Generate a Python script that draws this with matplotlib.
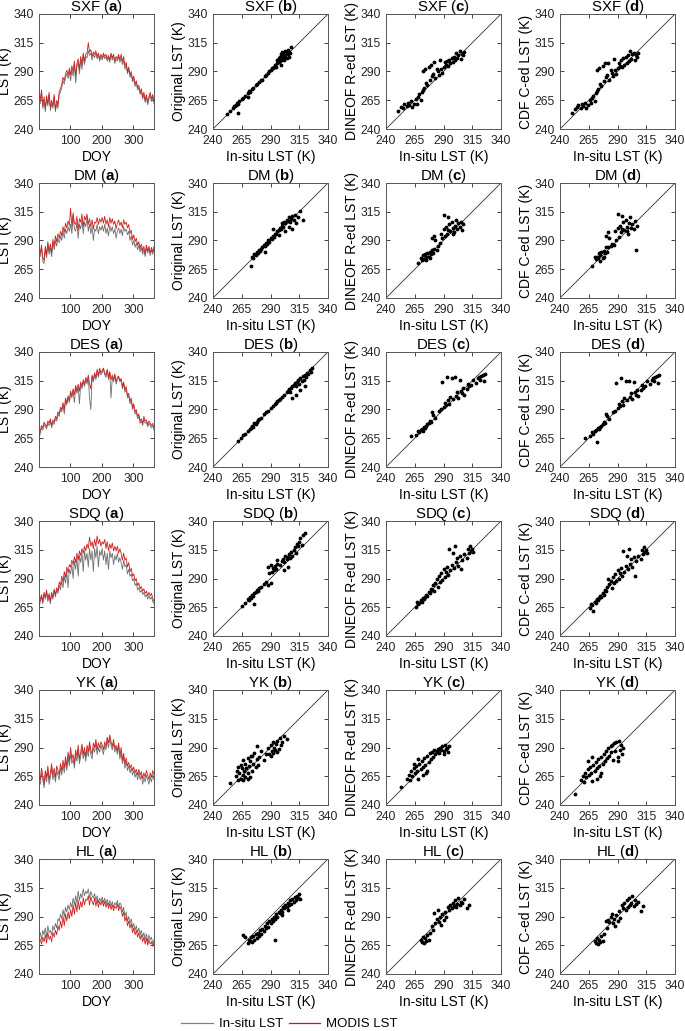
import matplotlib.pyplot as plt
from matplotlib.lines import Line2D

plt.rcParams['font.family'] = ['Liberation Sans', 'DejaVu Sans']
plt.rcParams['mathtext.fontset'] = 'custom'
plt.rcParams['mathtext.rm'] = 'Liberation Sans'
plt.rcParams['mathtext.bf'] = 'Liberation Sans:bold'

# day of year, every 4th day
doy = list(range(1, 366, 4))

# ---- time series (in-situ / MODIS), K ----
sxf_insitu = [268, 262, 272, 258, 264, 255, 266, 260, 270, 256, 262, 258, 268, 255, 262, 258,
              270, 272, 276, 282, 279, 285, 288, 284, 290,
              282, 292, 286, 296, 280, 294, 298, 288, 300, 292, 304, 296, 303,
              302, 308, 304, 306, 300, 305, 302, 306, 301, 304, 299, 303, 300,
              304, 301, 303, 299, 302, 298, 304, 300, 303, 297, 301, 299, 303, 298,
              302, 296, 300, 292, 296, 288, 292, 285, 288, 281, 284, 277, 280, 274,
              276, 270, 273, 266, 270, 263, 268, 261, 266, 270, 264, 268, 262]
sxf_modis = [270, 265, 274, 260, 268, 258, 269, 262, 272, 259, 265, 260, 270, 257, 265, 261,
             273, 275, 279, 285, 282, 288, 291, 287, 293,
             287, 295, 290, 299, 286, 297, 301, 292, 303, 296, 306, 299, 305,
             306, 315, 307, 309, 303, 307, 305, 308, 303, 306, 301, 305, 302,
             306, 303, 305, 301, 304, 300, 306, 302, 305, 299, 303, 301, 305, 300,
             305, 299, 303, 295, 298, 290, 294, 287, 290, 283, 286, 279, 282, 276,
             278, 272, 275, 268, 272, 265, 270, 263, 268, 272, 266, 270, 264]

dm_insitu = [280, 276, 284, 272, 270, 282, 275, 286, 278, 284, 276, 288, 282, 290, 285, 292,
             288, 294, 290, 298, 292, 300, 296, 302, 298,
             304, 296, 312, 300, 298, 306, 292, 304, 300, 308, 296, 306, 302,
             310, 298, 304, 296, 302, 290, 300, 298, 304, 296, 302, 299, 303,
             298, 304, 296, 301, 294, 303, 298, 302, 296, 300, 292, 298, 301, 296,
             300, 294, 302, 298, 300, 295, 298, 290, 294, 286, 290, 284, 288, 282,
             286, 280, 284, 278, 282, 276, 284, 279, 283, 277, 282, 278, 283]
dm_modis = [282, 279, 286, 275, 273, 285, 278, 289, 281, 287, 279, 291, 285, 294, 289, 296,
            292, 298, 294, 302, 297, 305, 301, 307, 303,
            318, 302, 314, 305, 304, 311, 299, 309, 306, 313, 302, 311, 308,
            313, 304, 309, 302, 308, 300, 306, 305, 310, 304, 309, 306, 310,
            305, 311, 304, 308, 302, 310, 305, 309, 304, 307, 300, 305, 308, 303,
            306, 301, 308, 304, 306, 301, 304, 296, 299, 291, 295, 289, 292, 286,
            289, 283, 287, 281, 285, 278, 286, 281, 285, 279, 284, 280, 285]

des_insitu = [263, 270, 274, 272, 277, 275, 273, 278, 276, 280, 274, 279, 277, 282, 280, 286,
              284, 290, 288, 294, 286, 298, 294, 300, 296,
              304, 300, 306, 296, 309, 304, 310, 295, 312, 308, 314, 310, 316,
              312, 318, 300, 290, 318, 314, 320, 316, 322, 318, 324, 320, 322,
              325, 320, 318, 324, 316, 322, 300, 318, 314, 320, 312, 316, 318, 314,
              316, 308, 312, 305, 308, 300, 302, 295, 298, 290, 293, 286, 288, 282,
              284, 278, 280, 276, 282, 278, 279, 275, 278, 276, 274, 276, 272]
des_modis = [265, 272, 276, 274, 279, 277, 275, 280, 278, 282, 276, 281, 279, 284, 282, 288,
             286, 292, 290, 296, 290, 300, 296, 302, 298,
             306, 302, 308, 303, 311, 306, 312, 306, 314, 310, 316, 312, 318,
             314, 320, 312, 308, 320, 316, 322, 318, 325, 320, 326, 322, 324,
             326, 322, 320, 325, 318, 323, 316, 320, 316, 321, 314, 318, 319, 315,
             317, 310, 314, 307, 310, 302, 304, 297, 300, 292, 295, 288, 290, 284,
             286, 280, 282, 278, 284, 280, 281, 277, 280, 278, 276, 278, 274]

sdq_insitu = [265, 270, 274, 268, 276, 272, 278, 270, 275, 268, 276, 272, 279, 274, 280, 277,
              284, 280, 288, 282, 292, 286, 296, 282, 298,
              294, 302, 290, 305, 298, 308, 292, 310, 304, 312, 296, 314, 306,
              312, 300, 316, 306, 314, 296, 316, 308, 318, 300, 314, 310, 316,
              306, 314, 302, 312, 298, 314, 308, 312, 302, 310, 306, 312, 304, 308,
              304, 298, 306, 300, 302, 294, 298, 292, 294, 288, 290, 284, 286, 280,
              282, 278, 280, 276, 278, 274, 276, 272, 275, 272, 274, 270, 268]
sdq_modis = [266, 272, 276, 270, 278, 274, 280, 272, 277, 270, 278, 274, 281, 276, 282, 279,
             287, 284, 292, 287, 296, 291, 300, 295, 302,
             300, 306, 302, 309, 304, 312, 306, 314, 310, 316, 312, 318, 314,
             320, 316, 326, 318, 322, 316, 324, 318, 327, 320, 324, 318, 322,
             320, 324, 316, 322, 314, 320, 316, 321, 314, 318, 314, 318, 312, 316,
             312, 306, 312, 306, 308, 300, 304, 296, 299, 292, 294, 288, 290, 284,
             286, 281, 283, 279, 281, 277, 279, 275, 278, 275, 277, 273, 270]

yk_insitu = [264, 258, 268, 262, 255, 266, 260, 270, 258, 264, 272, 262, 268, 260, 270, 266,
             262, 272, 266, 275, 268, 278, 270, 282, 274,
             285, 276, 280, 272, 284, 278, 288, 276, 282, 290, 280, 286, 278,
             288, 282, 292, 284, 280, 290, 286, 294, 284, 290, 286, 292, 288,
             284, 292, 288, 296, 290, 298, 292, 288, 294, 286, 290, 284, 292, 280,
             286, 276, 282, 272, 278, 270, 274, 268, 272, 266, 270, 264, 268, 262,
             268, 262, 266, 258, 264, 260, 266, 262, 258, 264, 260, 266, 262]
yk_modis = [268, 262, 272, 266, 258, 270, 264, 274, 262, 268, 276, 266, 272, 264, 274, 270,
            266, 276, 270, 279, 272, 282, 274, 286, 278,
            290, 280, 284, 276, 288, 282, 292, 280, 286, 293, 284, 290, 282,
            292, 286, 295, 288, 284, 294, 290, 297, 288, 294, 290, 295, 292,
            288, 295, 291, 299, 294, 301, 295, 291, 297, 289, 292, 287, 294, 283,
            290, 279, 285, 276, 281, 274, 277, 272, 275, 270, 273, 268, 271, 266,
            271, 266, 269, 263, 268, 264, 270, 266, 262, 268, 264, 270, 266]

hl_insitu = [272, 276, 270, 278, 274, 280, 272, 282, 276, 278, 274, 282, 278, 284, 280, 288,
             286, 292, 288, 296, 290, 298, 294, 300, 296,
             302, 298, 306, 300, 308, 302, 312, 304, 310, 306, 314, 308, 312,
             310, 314, 306, 312, 308, 306, 310, 304, 308, 302, 306, 303, 307,
             302, 306, 301, 305, 300, 304, 299, 303, 298, 302, 300, 304, 298, 302,
             300, 294, 298, 290, 294, 286, 290, 284, 288, 280, 284, 278, 282, 276,
             280, 274, 278, 272, 276, 270, 275, 268, 274, 270, 272, 266, 270]
hl_modis = [268, 270, 266, 272, 268, 274, 267, 276, 270, 273, 268, 276, 272, 278, 274, 282,
            278, 286, 280, 290, 282, 292, 286, 294, 288,
            296, 290, 300, 292, 302, 294, 304, 296, 303, 298, 306, 300, 305,
            304, 308, 300, 307, 303, 300, 306, 299, 305, 298, 303, 300, 304,
            299, 303, 298, 302, 297, 301, 296, 300, 295, 299, 297, 301, 295, 299,
            296, 290, 294, 286, 290, 282, 286, 280, 284, 276, 280, 274, 278, 272,
            276, 270, 274, 268, 272, 266, 271, 265, 270, 266, 268, 264, 267]

# ---- clear-sky days: in-situ vs original MODIS ----
sxf_bx = [252, 255, 257, 258, 260, 261, 262, 263, 265, 266, 268, 270, 271, 272, 274, 275, 277, 278, 280, 282,
          283, 285, 286, 288, 289, 290, 292, 293, 294, 295, 296, 296, 297, 297, 298, 298, 299, 299, 300, 300,
          300, 301, 301, 302, 302, 303, 303, 304, 304, 305, 305, 306, 306, 307, 308, 262, 259, 270, 291, 299]
sxf_by = [253, 256, 258, 260, 261, 263, 262, 264, 266, 267, 269, 271, 273, 272, 275, 276, 278, 279, 281, 283,
          283, 286, 287, 289, 290, 291, 293, 294, 296, 294, 297, 300, 298, 302, 299, 303, 300, 305, 301, 304,
          307, 302, 306, 300, 304, 303, 308, 302, 306, 305, 309, 303, 307, 306, 311, 254, 260, 268, 293, 296]
dm_bx = [273, 274, 275, 276, 277, 278, 279, 280, 281, 282, 283, 284, 285, 286, 287, 288, 289, 290, 291, 292,
         293, 294, 295, 296, 297, 298, 299, 300, 300, 301, 302, 303, 304, 305, 306, 307, 308, 309, 310, 311,
         312, 314, 316, 318, 292, 297, 303, 306, 309, 285]
dm_by = [268, 276, 275, 278, 277, 280, 279, 282, 281, 283, 284, 286, 285, 288, 287, 290, 289, 292, 291, 294,
         293, 296, 296, 298, 299, 301, 300, 303, 305, 302, 306, 305, 308, 307, 310, 306, 309, 311, 308, 312,
         305, 310, 316, 308, 300, 295, 298, 302, 300, 280]
des_bx = [262, 264, 266, 268, 270, 272, 273, 274, 275, 276, 277, 278, 279, 280, 282, 284, 286, 288, 290, 292,
          294, 295, 296, 297, 298, 300, 302, 304, 305, 306, 307, 308, 309, 310, 311, 312, 313, 314, 315, 316,
          317, 318, 319, 320, 321, 322, 323, 324, 325, 326, 312, 316, 320, 309]
des_by = [263, 265, 268, 269, 271, 273, 274, 276, 275, 278, 277, 279, 281, 282, 283, 286, 288, 289, 291, 293,
          295, 296, 297, 298, 299, 301, 303, 305, 306, 308, 305, 309, 310, 311, 313, 310, 314, 316, 312, 317,
          315, 319, 316, 320, 318, 322, 321, 324, 323, 326, 303, 307, 310, 300]
sdq_bx = [265, 268, 270, 271, 272, 273, 274, 275, 276, 277, 278, 279, 280, 282, 284, 286, 288, 289, 290, 291,
          292, 293, 294, 295, 296, 298, 300, 301, 302, 303, 304, 305, 306, 307, 308, 309, 310, 311, 312, 313,
          314, 315, 316, 317, 318, 320, 288, 290, 302, 305, 276, 296]
sdq_by = [266, 269, 272, 271, 274, 273, 276, 275, 277, 278, 280, 279, 282, 283, 285, 287, 300, 295, 302, 296,
          299, 297, 301, 298, 303, 302, 305, 307, 304, 310, 307, 309, 311, 308, 313, 310, 315, 317, 312, 320,
          318, 322, 325, 319, 328, 330, 284, 286, 297, 300, 268, 306]
yk_bx = [255, 260, 261, 262, 263, 264, 264, 265, 266, 266, 267, 268, 268, 269, 270, 270, 271, 272, 272, 273,
         274, 275, 276, 277, 278, 279, 280, 282, 284, 286, 288, 289, 290, 291, 292, 292, 293, 294, 295, 296,
         297, 298, 299, 300, 302, 304, 262, 266, 270, 274, 278, 290, 296]
yk_by = [259, 265, 270, 262, 268, 275, 263, 272, 266, 279, 270, 264, 276, 272, 281, 268, 274, 278, 264, 283,
         270, 276, 285, 273, 280, 275, 282, 287, 279, 284, 290, 284, 292, 287, 295, 285, 290, 288, 293, 296,
         289, 298, 292, 295, 300, 297, 273, 262, 263, 283, 291, 283, 286]
hl_bx = [266, 268, 270, 271, 272, 273, 274, 275, 276, 277, 278, 279, 280, 281, 282, 283, 284, 285, 286, 287,
         288, 289, 290, 291, 292, 293, 294, 295, 296, 297, 298, 299, 300, 301, 302, 303, 304, 305, 306, 307,
         308, 309, 310, 311, 312, 313, 314, 315, 316, 294, 300, 305]
hl_by = [274, 272, 267, 270, 269, 272, 268, 273, 270, 275, 271, 276, 273, 278, 275, 279, 277, 282, 280, 284,
         281, 286, 284, 288, 286, 290, 288, 292, 290, 294, 293, 296, 294, 298, 297, 300, 298, 302, 300, 304,
         301, 305, 303, 307, 304, 308, 306, 310, 305, 270, 291, 296]

# ---- cloudy days: in-situ vs DINEOF / CDF reconstructions ----
sxf_gx = [250, 253, 255, 256, 258, 259, 260, 262, 263, 264, 266, 267, 268, 269, 270, 271, 272, 272, 273, 274,
          275, 276, 277, 278, 279, 280, 281, 282, 283, 284, 285, 286, 287, 288, 289, 290, 291, 292, 293, 294,
          295, 296, 297, 298, 299, 300, 301, 302, 303, 304, 305, 306, 307, 308]
sxf_dy = [256, 259, 258, 262, 260, 263, 261, 264, 259, 262, 266, 262, 268, 270, 265, 272, 290, 274, 276, 292,
          280, 278, 294, 283, 296, 286, 288, 298, 284, 292, 290, 287, 300, 292, 289, 294, 298, 296, 299, 295,
          300, 297, 302, 298, 303, 300, 306, 302, 304, 308, 301, 305, 304, 307]
sxf_cy = [254, 257, 259, 261, 258, 262, 260, 263, 258, 261, 265, 263, 267, 269, 264, 271, 291, 273, 275, 293,
          279, 277, 295, 282, 297, 285, 287, 297, 283, 291, 289, 286, 301, 291, 288, 293, 297, 295, 300, 294,
          302, 296, 303, 297, 304, 299, 308, 301, 305, 306, 300, 304, 303, 306]
dm_gx = [268, 270, 271, 272, 273, 274, 275, 275, 276, 277, 278, 278, 279, 280, 281, 282, 283, 284, 285, 287,
         288, 289, 290, 291, 292, 293, 294, 295, 296, 297, 298, 299, 300, 301, 302, 303, 304, 305, 306, 307,
         280, 282, 290, 294, 298]
dm_dy = [270, 275, 273, 277, 274, 278, 276, 273, 279, 276, 280, 275, 278, 282, 279, 283, 290, 282, 285, 288,
         296, 292, 300, 294, 302, 296, 299, 304, 298, 306, 301, 297, 303, 308, 300, 305, 302, 306, 299, 304,
         292, 294, 312, 310, 296]
dm_cy = [268, 276, 274, 276, 275, 279, 277, 272, 280, 275, 281, 276, 279, 284, 280, 284, 292, 285, 287, 286,
         298, 290, 301, 293, 303, 297, 300, 306, 299, 308, 302, 296, 305, 310, 301, 304, 300, 307, 282, 303,
         294, 297, 313, 311, 298]
des_gx = [262, 266, 268, 269, 270, 271, 272, 273, 274, 275, 276, 277, 278, 279, 280, 281, 283, 286, 288, 289,
          290, 291, 292, 293, 294, 295, 296, 297, 298, 300, 301, 302, 303, 304, 305, 306, 307, 308, 310, 311,
          312, 314, 316, 318, 320, 321, 322, 323, 324, 325, 326]
des_dy = [267, 268, 271, 270, 272, 273, 271, 275, 274, 276, 277, 278, 280, 279, 288, 285, 283, 289, 290, 314,
          292, 296, 294, 318, 298, 295, 301, 317, 299, 318, 302, 305, 300, 316, 306, 304, 309, 303, 308, 312,
          310, 311, 316, 313, 317, 318, 316, 319, 320, 315, 321]
des_cy = [265, 267, 270, 269, 271, 272, 262, 274, 273, 275, 276, 277, 279, 278, 286, 284, 282, 288, 289, 313,
          291, 295, 293, 317, 297, 294, 300, 315, 298, 315, 301, 304, 299, 314, 305, 303, 307, 302, 307, 311,
          309, 310, 315, 312, 316, 317, 315, 318, 319, 313, 320]
sdq_gx = [266, 267, 268, 269, 270, 271, 272, 273, 274, 275, 276, 277, 278, 279, 280, 281, 282, 283, 284, 285,
          286, 287, 288, 289, 290, 291, 292, 293, 294, 295, 296, 297, 298, 299, 300, 301, 302, 303, 304, 305,
          306, 308, 310, 311, 312, 313, 314, 315, 316]
sdq_dy = [265, 270, 268, 269, 271, 270, 273, 272, 274, 276, 275, 278, 277, 281, 280, 284, 279, 286, 290, 283,
          292, 287, 295, 289, 298, 291, 296, 300, 293, 316, 297, 302, 312, 299, 318, 304, 308, 301, 310, 298,
          306, 311, 308, 316, 312, 318, 314, 316, 313]
sdq_cy = [264, 268, 267, 262, 270, 269, 272, 271, 273, 275, 274, 277, 276, 280, 279, 283, 290, 285, 288, 282,
          291, 286, 294, 288, 297, 290, 295, 299, 292, 314, 296, 301, 310, 298, 316, 303, 307, 300, 309, 292,
          305, 310, 307, 315, 311, 317, 313, 315, 312]
yk_gx = [253, 258, 260, 261, 262, 263, 264, 265, 266, 267, 268, 269, 270, 271, 272, 273, 274, 275, 276, 277,
         278, 279, 280, 281, 282, 283, 284, 285, 286, 287, 288, 289, 290, 291, 292, 293, 294, 295,
         264, 268, 272, 276, 284, 290]
yk_dy = [256, 263, 266, 262, 270, 265, 272, 268, 274, 270, 263, 276, 271, 278, 273, 281, 275, 268, 283, 277,
         285, 280, 286, 282, 288, 284, 287, 289, 285, 290, 288, 291, 287, 292, 289, 290, 286, 291,
         276, 280, 266, 270, 286, 284]
yk_cy = [250, 262, 265, 260, 268, 264, 271, 266, 273, 268, 261, 275, 270, 277, 272, 280, 274, 265, 282, 276,
         284, 278, 287, 281, 290, 283, 286, 292, 279, 294, 287, 295, 282, 296, 288, 292, 284, 290,
         278, 282, 263, 268, 291, 278]
hl_gx = [270, 271, 272, 273, 274, 275, 276, 277, 278,
         280, 281, 282, 283, 284, 285, 286, 287, 288, 289, 290, 291, 292,
         294, 295, 296, 297, 298, 299, 300, 301, 302, 303, 304, 305, 306, 308, 310, 312]
hl_dy = [270, 268, 272, 267, 271, 269, 274, 270, 276,
         282, 278, 293, 284, 288, 296, 285, 290, 283, 292, 287, 294, 290,
         298, 296, 300, 297, 302, 299, 304, 298, 301, 306, 300, 303, 302, 305, 297, 300]
hl_cy = [269, 267, 271, 266, 270, 268, 273, 269, 275,
         286, 280, 287, 285, 290, 292, 284, 288, 282, 291, 286, 295, 289,
         300, 297, 302, 296, 304, 298, 306, 300, 302, 308, 299, 304, 301, 303, 295, 299]

sites = ['SXF', 'DM', 'DES', 'SDQ', 'YK', 'HL']
series = {'SXF': (sxf_insitu, sxf_modis), 'DM': (dm_insitu, dm_modis), 'DES': (des_insitu, des_modis),
          'SDQ': (sdq_insitu, sdq_modis), 'YK': (yk_insitu, yk_modis), 'HL': (hl_insitu, hl_modis)}
clear = {'SXF': (sxf_bx, sxf_by), 'DM': (dm_bx, dm_by), 'DES': (des_bx, des_by),
         'SDQ': (sdq_bx, sdq_by), 'YK': (yk_bx, yk_by), 'HL': (hl_bx, hl_by)}
cloudy = {'SXF': (sxf_gx, sxf_dy, sxf_cy), 'DM': (dm_gx, dm_dy, dm_cy), 'DES': (des_gx, des_dy, des_cy),
          'SDQ': (sdq_gx, sdq_dy, sdq_cy), 'YK': (yk_gx, yk_dy, yk_cy), 'HL': (hl_gx, hl_dy, hl_cy)}

ylabels = ['LST (K)', 'Original LST (K)', 'DINEOF R-ed LST (K)', 'CDF C-ed LST (K)']
letters = ['a', 'b', 'c', 'd']
lims = (240, 340)
ticks = [240, 265, 290, 315, 340]
gray = '#6e6e6e'
red = '#cc1f1f'

W, H = 685, 1031
col_left = [39, 213, 386, 560]
row_top = [14, 183, 352, 521, 690, 859]
size = 115

fig = plt.figure(figsize=(W / 100, H / 100), dpi=100)


def style(ax):
    ax.tick_params(direction='in', top=True, right=True, length=3, width=0.6,
                   labelsize=8.7, colors='#262626')
    ax.tick_params(axis='x', pad=4.5)
    ax.tick_params(axis='y', pad=3.5)
    for s in ax.spines.values():
        s.set_color('#555555')
        s.set_linewidth(0.7)
    ax.set_ylim(lims)
    ax.set_yticks(ticks)


for r, site in enumerate(sites):
    for c in range(4):
        ax = fig.add_axes([col_left[c] / W, 1 - (row_top[r] + size) / H, size / W, size / H])
        style(ax)
        if c == 0:
            ins, mod = series[site]
            ax.plot(doy, ins, color=gray, lw=0.6)
            ax.plot(doy, mod, color=red, lw=0.6)
            ax.set_xlim(1, 365)
            ax.set_xticks([100, 200, 300])
            ax.set_xlabel('DOY', fontsize=10, labelpad=2)
        else:
            if c == 1:
                x, y = clear[site]
            else:
                x = cloudy[site][0]
                y = cloudy[site][c - 1]
            ax.plot(lims, lims, color='#333333', lw=0.6)
            ax.plot(x, y, '.', color='k', ms=3.5)
            ax.set_xlim(lims)
            ax.set_xticks(ticks)
            ax.set_xlabel('In-situ LST (K)', fontsize=10, labelpad=2)
        ax.set_ylabel(ylabels[c], fontsize=10, labelpad=1)
        ax.set_title(site + r' ($\mathbf{' + letters[c] + '}$)', fontsize=10.8, pad=2)

handles = [Line2D([], [], color='#808080', lw=0.9), Line2D([], [], color='#c41a1a', lw=0.9)]
fig.legend(handles, ['In-situ LST', 'MODIS LST'], loc='center left', ncol=2, frameon=False,
           fontsize=9.5, bbox_to_anchor=(181 / W, 1 - 1024 / H), borderpad=0, borderaxespad=0,
           handlelength=2.4, handletextpad=0.45, columnspacing=0.45)

fig.savefig('out.png', dpi=100)
